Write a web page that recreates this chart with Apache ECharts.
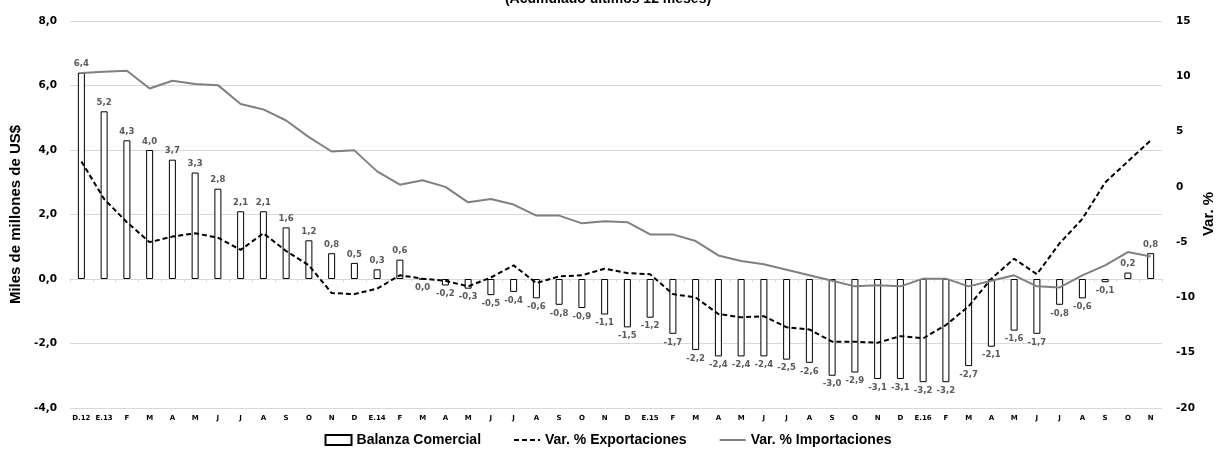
<!DOCTYPE html>
<html>
<head>
<meta charset="utf-8">
<script src="https://cdn.jsdelivr.net/npm/echarts@6/dist/echarts.min.js"></script>
<style>
html,body{margin:0;padding:0;background:#fff;}
#chart{width:1216px;height:449px;}
</style>
</head>
<body>
<div id="chart"></div>
<script>
const categories = ["D.12","E.13","F","M","A","M","J","J","A","S","O","N","D",
  "E.14","F","M","A","M","J","J","A","S","O","N","D",
  "E.15","F","M","A","M","J","J","A","S","O","N","D",
  "E.16","F","M","A","M","J","J","A","S","O","N"];
const balanza = [6.4,5.2,4.3,4.0,3.7,3.3,2.8,2.1,2.1,1.6,1.2,0.8,0.5,
  0.3,0.6,0.0,-0.2,-0.3,-0.5,-0.4,-0.6,-0.8,-0.9,-1.1,-1.5,
  -1.2,-1.7,-2.2,-2.4,-2.4,-2.4,-2.5,-2.6,-3.0,-2.9,-3.1,-3.1,
  -3.2,-3.2,-2.7,-2.1,-1.6,-1.7,-0.8,-0.6,-0.1,0.2,0.8];
const exportaciones = [2.3,-1.1,-3.2,-5.0,-4.5,-4.2,-4.6,-5.7,-4.2,-5.8,-7.1,-9.6,-9.7,
  -9.2,-8.0,-8.3,-8.5,-9.0,-8.2,-7.1,-8.7,-8.1,-8.0,-7.4,-7.8,
  -7.9,-9.7,-10.0,-11.5,-11.8,-11.7,-12.7,-12.9,-14.0,-14.0,-14.1,-13.5,
  -13.7,-12.5,-10.8,-8.3,-6.5,-7.9,-5.1,-2.9,0.4,2.3,4.2];
const importaciones = [10.3,10.4,10.5,8.9,9.6,9.3,9.2,7.5,7.0,6.0,4.5,3.2,3.3,
  1.4,0.2,0.6,0.0,-1.4,-1.1,-1.6,-2.6,-2.6,-3.3,-3.1,-3.2,
  -4.3,-4.3,-4.9,-6.2,-6.7,-7.0,-7.5,-8.0,-8.5,-9.0,-8.9,-9.0,
  -8.3,-8.3,-9.0,-8.5,-8.0,-9.0,-9.1,-8.0,-7.1,-5.9,-6.3];
const leftTicks = {min:-4, max:8, interval:2};
const rightTicks = {min:-20, max:15, interval:5};

const fmt1 = v => v.toFixed(1).replace('.', ',');
const smallFont = 'DejaVu Sans';
const chart = echarts.init(document.getElementById('chart'));
chart.setOption({
  animation:false,
  title:{
    text:'(Acumulado últimos 12 meses)',
    left:'center', top:-13,
    textStyle:{fontFamily:'Liberation Sans', fontWeight:'bold', fontSize:14, color:'#000'}
  },
  graphic:[{
    type:'text', x:1209, y:214, rotation:Math.PI/2,
    style:{text:'Var. %', align:'center', verticalAlign:'middle',
      fontFamily:'Liberation Sans', fontWeight:'bold', fontSize:15, fill:'#000'}
  }],
  grid:{left:70, right:54, top:21, bottom:41, containLabel:false, outerBoundsMode:'none'},
  legend:{
    bottom:-3, left:'center',
    itemWidth:26, itemHeight:10, itemGap:32,
    textStyle:{fontFamily:'Liberation Sans', fontWeight:'bold', fontSize:14, color:'#000'},
    data:[
      {name:'Balanza Comercial', icon:'rect'},
      {name:'Var. % Exportaciones', itemStyle:{opacity:0}},
      {name:'Var. % Importaciones', itemStyle:{opacity:0}}
    ]
  },
  xAxis:{
    type:'category', data:categories,
    axisLine:{onZero:true, onZeroAxisIndex:0, lineStyle:{color:'#d9d9d9'}},
    axisTick:{show:true, lineStyle:{color:'#d9d9d9'}, length:3},
    axisLabel:{interval:0, fontFamily:smallFont, fontWeight:'bold', fontSize:7, color:'#000', margin:7},
    position:'bottom'
  },
  yAxis:[{
    type:'value', min:leftTicks.min, max:leftTicks.max, interval:leftTicks.interval,
    name:'Miles de millones de US$', nameLocation:'middle', nameGap:44,
    nameTextStyle:{fontFamily:'Liberation Sans', fontWeight:'bold', fontSize:15, color:'#000'},
    axisLine:{show:false}, axisTick:{show:false},
    axisLabel:{formatter:fmt1, fontFamily:smallFont, fontWeight:'bold', fontSize:10.5, color:'#000', margin:13},
    splitLine:{lineStyle:{color:'#d9d9d9', width:1}}
  },{
    type:'value', min:rightTicks.min, max:rightTicks.max, interval:rightTicks.interval,
    axisLine:{show:false}, axisTick:{show:false},
    axisLabel:{fontFamily:smallFont, fontWeight:'bold', fontSize:10.5, color:'#000', margin:14},
    splitLine:{show:false}
  }],
  series:[{
    name:'Balanza Comercial', type:'bar', yAxisIndex:0, barWidth:7,
    itemStyle:{color:'#fff', borderColor:'#000', borderWidth:1},
    data: balanza.map(v => ({value:v, label:{position: v > 0 ? 'top' : 'bottom'}})),
    label:{show:true, formatter:p => fmt1(p.value), fontFamily:smallFont, fontWeight:'bold',
      fontSize:8.5, color:'#595959', distance:4},
    z:2
  },{
    name:'Var. % Exportaciones', type:'line', yAxisIndex:1, data:exportaciones,
    symbol:'none', showSymbol:false, lineStyle:{color:'#000', width:2, type:[5,3]}, itemStyle:{color:'#000'},
    z:3
  },{
    name:'Var. % Importaciones', type:'line', yAxisIndex:1, data:importaciones,
    symbol:'none', showSymbol:false, lineStyle:{color:'#808080', width:2}, itemStyle:{color:'#808080'},
    z:3
  }]
});
</script>
</body>
</html>
